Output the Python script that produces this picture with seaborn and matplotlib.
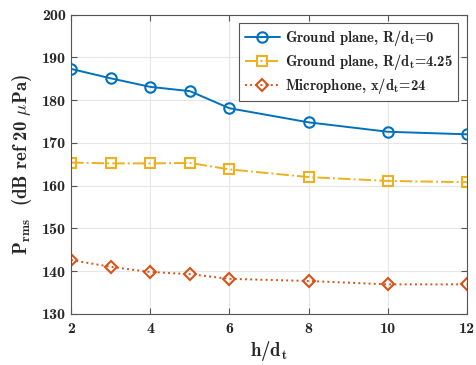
import numpy as np
import pandas as pd
import matplotlib
matplotlib.use("Agg")
import matplotlib.pyplot as plt
import seaborn as sns

# ================= DATA =================
h_dt = [2, 3, 4, 5, 6, 8, 10, 12]
ground_r0 = [187.3, 185.1, 183.1, 182.1, 178.1, 174.8, 172.6, 172.0]
ground_r425 = [165.4, 165.2, 165.2, 165.3, 163.8, 162.0, 161.1, 160.8]
microphone = [142.6, 141.0, 139.8, 139.3, 138.2, 137.7, 136.9, 136.9]

labels = [
    r"Ground plane, R/d$_\mathrm{t}$=0",
    r"Ground plane, R/d$_\mathrm{t}$=4.25",
    r"Microphone, x/d$_\mathrm{t}$=24",
]
xticks = [2, 4, 6, 8, 10, 12]
yticks = [130, 140, 150, 160, 170, 180, 190, 200]

# ================= STYLE =================
sns.set_style("ticks")
plt.rcParams["mathtext.fontset"] = "custom"
plt.rcParams["mathtext.rm"] = "cmb10"
plt.rcParams["mathtext.bf"] = "cmb10"
plt.rcParams["mathtext.it"] = "cmmi10"
plt.rcParams["font.family"] = ["cmb10", "DejaVu Serif"]
plt.rcParams["axes.unicode_minus"] = False

fig = plt.figure(figsize=(4.77, 3.65), dpi=100)
ax = fig.add_axes([0.149, 0.140, 0.830, 0.820])

styles = [
    (ground_r0, "#0072BD", "o", "-", 7.5),
    (ground_r425, "#EDB120", "s", "-.", 6.5),
    (microphone, "#D95319", "D", ":", 6.5),
]
for (vals, col, mk, ls, ms), lab in zip(styles, labels):
    sns.lineplot(x=h_dt, y=vals, ax=ax, color=col, marker=mk, linestyle=ls,
                 linewidth=1.4, markersize=ms, markerfacecolor="none",
                 markeredgecolor=col, markeredgewidth=1.5, label=lab)

ax.set_xlim(2, 12)
ax.set_ylim(130, 200)
ax.set_xticks(xticks)
ax.set_yticks(yticks)
ax.set_xticklabels([str(t) for t in xticks], fontsize=11.5, color="#262626")
ax.set_yticklabels([str(t) for t in yticks], fontsize=11.5, color="#262626")
ax.tick_params(direction="in", length=4, color="#555555", top=True, right=True)
ax.tick_params(axis="x", pad=6)
ax.grid(True, color="#e6e6e6", linewidth=0.8)
for s in ax.spines.values():
    s.set_color("#555555")
    s.set_linewidth(0.8)

ax.set_xlabel(r"h/d$_\mathrm{t}$", fontsize=13.5, color="#262626", labelpad=2)
ax.set_ylabel(r"P$_\mathrm{rms}$  (dB ref 20 $\mu$Pa)", fontsize=13.5,
              color="#262626", labelpad=6)

leg = ax.legend(loc="upper right", fontsize=10.5, frameon=True, fancybox=False,
                edgecolor="#555555", framealpha=1, borderaxespad=0.6,
                handlelength=2.4, handletextpad=0.4, borderpad=0.35,
                labelspacing=0.25)
leg.get_frame().set_linewidth(0.8)

fig.savefig("out.png", dpi=100)
